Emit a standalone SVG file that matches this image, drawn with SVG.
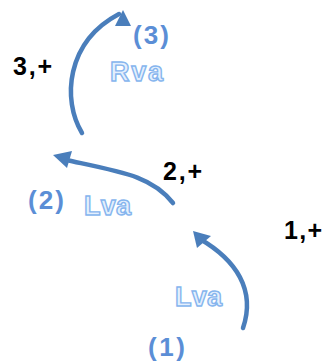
<svg xmlns="http://www.w3.org/2000/svg" width="324" height="363" viewBox="0 0 324 363">
<style>
.sign{font-family:"Liberation Sans",Arial,sans-serif;font-weight:bold;font-size:25px;fill:#000}
.num{font-family:"Liberation Sans",Arial,sans-serif;font-weight:bold;font-size:26px;fill:#5b8ed6}
.lbl{font-family:"Liberation Sans",Arial,sans-serif;font-weight:bold;font-size:27px;fill:#e4f0fd;stroke:#86b5ee;stroke-width:1.4px}
.arc{fill:none;stroke:#4a7ebb;stroke-width:4.5;stroke-linecap:round}
.head{fill:#4a7ebb;stroke:none}
</style>
<rect width="324" height="363" fill="#fff"/>
<g id="connectors">
<path class="arc" d="M82,133 C62,100 66,42 119,14"/>
<polygon class="head" points="123,10 131,26 115,26"/>
<path class="arc" d="M173,203 C152,176 122,172 66,160"/>
<polygon class="head" points="53,155 72,151 67,168"/>
<path class="arc" d="M243,328 C256,290 236,260 200,239"/>
<polygon class="head" points="193,231 211,236 197,248"/>
</g>
<g id="node3">
<text class="num" x="133" y="44" textLength="36" lengthAdjust="spacing">(3)</text>
<text class="lbl" x="110" y="81" textLength="53" lengthAdjust="spacing">Rva</text>
</g>
<g id="node2">
<text class="num" x="28" y="209" textLength="36" lengthAdjust="spacing">(2)</text>
<text class="lbl" x="84" y="215" textLength="47" lengthAdjust="spacing">Lva</text>
</g>
<g id="node1">
<text class="lbl" x="175" y="306" textLength="47" lengthAdjust="spacing">Lva</text>
<text class="num" x="148" y="356" textLength="37" lengthAdjust="spacing">(1)</text>
</g>
<g id="signs">
<text class="sign" x="13" y="75" textLength="39" lengthAdjust="spacing">3,+</text>
<text class="sign" x="163" y="180" textLength="39" lengthAdjust="spacing">2,+</text>
<text class="sign" x="284" y="239" textLength="38" lengthAdjust="spacing">1,+</text>
</g>
</svg>
